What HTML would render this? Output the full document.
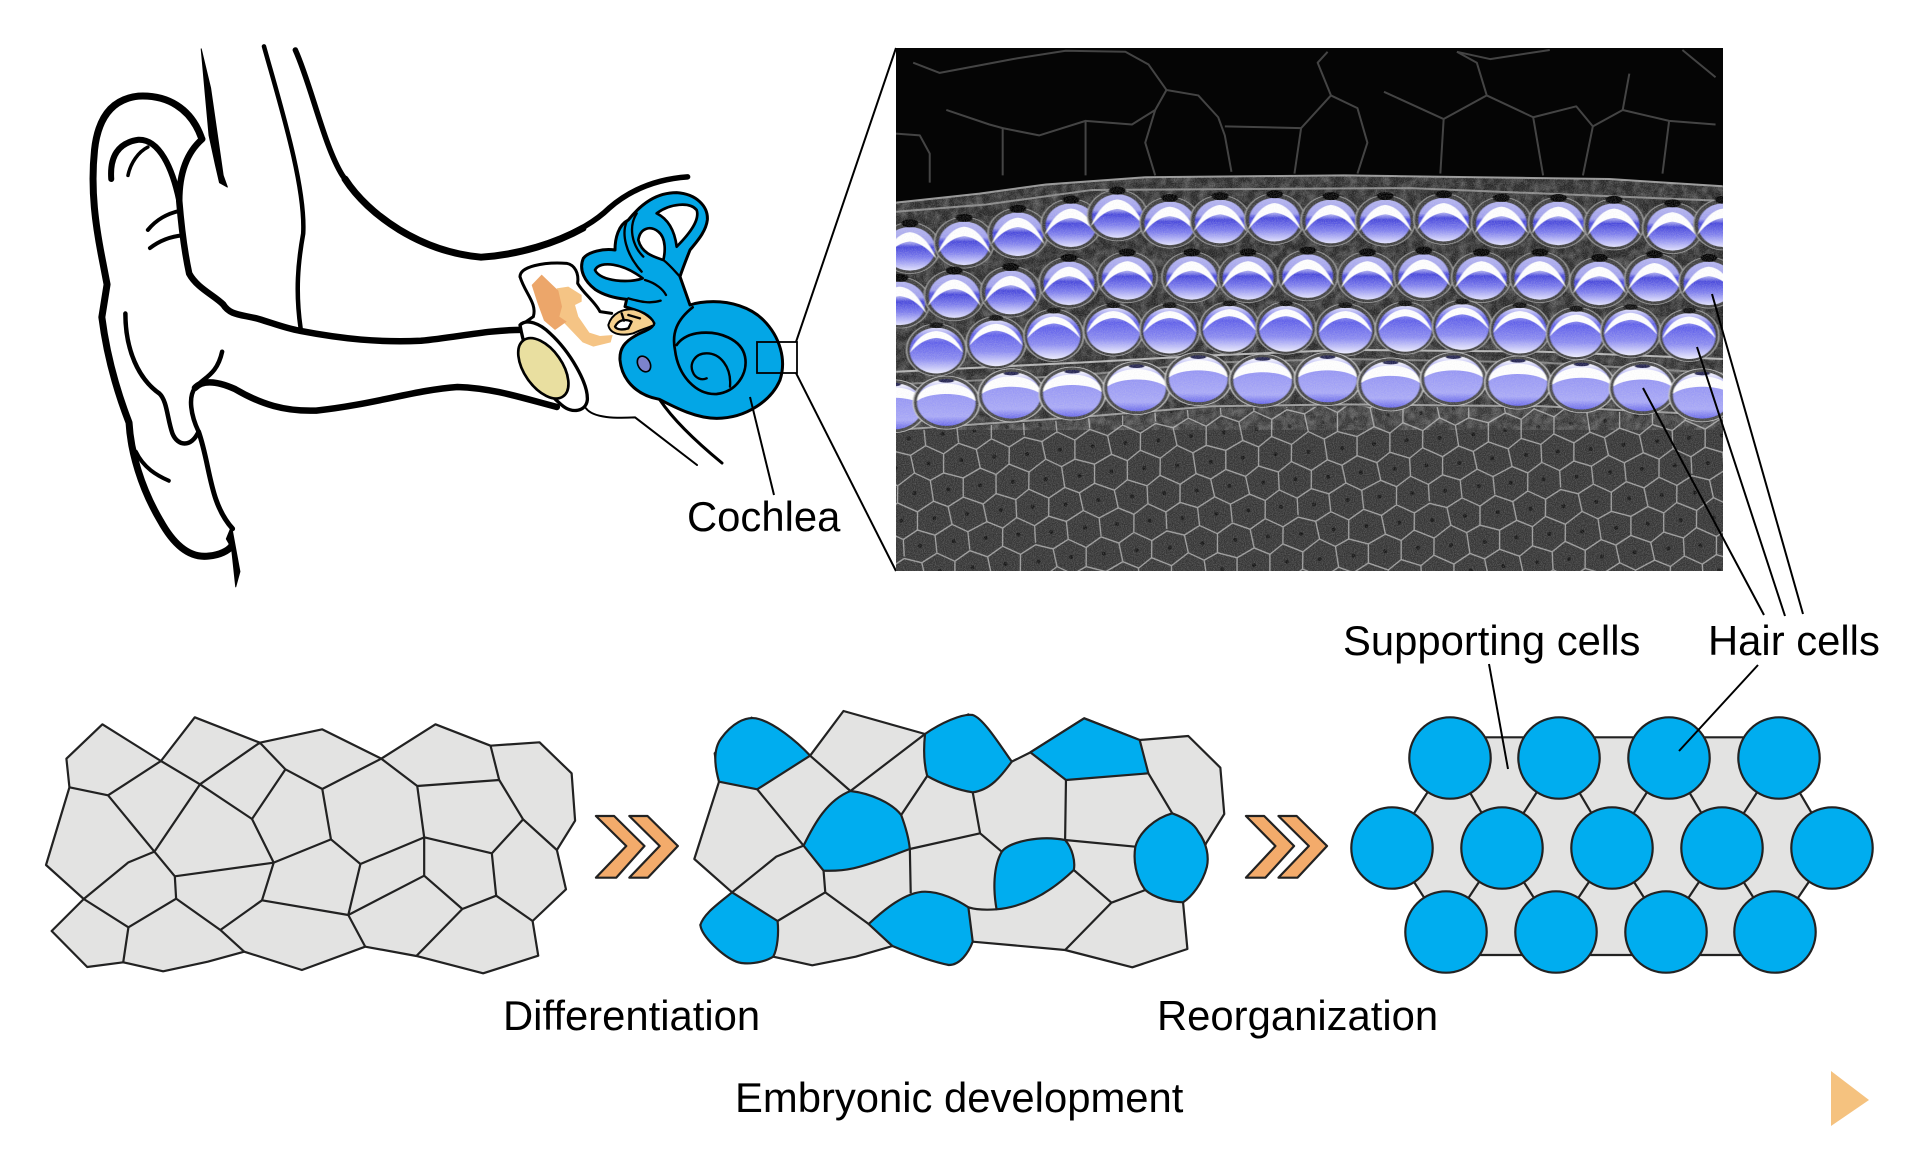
<!DOCTYPE html>
<html><head><meta charset="utf-8"><style>
html,body{margin:0;padding:0;background:#fff}
svg{display:block}
.n *{vector-effect:non-scaling-stroke}
.t{font-family:"Liberation Sans",sans-serif;font-size:41.8px;fill:#000}
</style></head><body>
<svg xmlns="http://www.w3.org/2000/svg" width="1920" height="1172" viewBox="0 0 1920 1172">
<defs>
<clipPath id="ic"><rect x="896" y="48" width="827" height="523"/></clipPath>
<clipPath id="nc"><path d="M896,203 L979,194 L1046,185 L1145,177 L1344,175 L1477,177 L1610,179 L1723,186 L1723,571 L896,571Z"/></clipPath>
<linearGradient id="g1" x1="0" y1="0" x2="0" y2="1"><stop offset="0" stop-color="#b4b4f0"/><stop offset=".36" stop-color="#a0a0ee"/><stop offset=".46" stop-color="#4646dc"/><stop offset=".7" stop-color="#7c7cee"/><stop offset="1" stop-color="#e2e2ff"/></linearGradient>
<linearGradient id="g3" x1="0" y1="0" x2="0" y2="1"><stop offset="0" stop-color="#dcdcfa"/><stop offset=".32" stop-color="#5e5eea"/><stop offset=".68" stop-color="#8a8af2"/><stop offset="1" stop-color="#ececff"/></linearGradient>
<linearGradient id="g4" x1="0" y1="0" x2="0" y2="1"><stop offset="0" stop-color="#fff"/><stop offset=".3" stop-color="#9494f4"/><stop offset=".8" stop-color="#a8a8f8"/><stop offset="1" stop-color="#6868ea"/></linearGradient>
<g id="c1">
<ellipse rx="45" ry="70" fill="#3c3c3c" stroke="#9a9a9a" stroke-width="2"/>
<ellipse rx="38" ry="60" cy="2" fill="url(#g1)"/>
<path d="M-40,30 Q-24,-40 0,-44 Q24,-40 40,30 Q22,-14 0,-18 Q-22,-14 -40,30Z" fill="#fff"/>
<ellipse cy="-68" rx="13" ry="11" fill="#060606"/>
</g>
<g id="c3">
<ellipse rx="45" ry="72" fill="#3c3c3c" stroke="#a4a4a4" stroke-width="2"/>
<ellipse rx="40" ry="63" cy="2" fill="url(#g3)"/>
<path d="M-40,8 Q-28,-48 0,-52 Q28,-48 40,8 Q22,-30 0,-33 Q-22,-30 -40,8Z" fill="#fff"/>
<ellipse cy="-68" rx="11" ry="8" fill="#111"/>
</g>
<g id="c4">
<ellipse rx="50" ry="73" fill="#444" stroke="#c4c4c4" stroke-width="2"/>
<ellipse rx="44" ry="64" fill="url(#g4)"/>
<path d="M-44,-4 C-44,-68 44,-68 44,-4 C26,-30 -26,-30 -44,-4Z" fill="#fff"/>
<ellipse cy="-60" rx="12" ry="5" fill="#222250"/>
</g>
<pattern id="hex" patternUnits="userSpaceOnUse" width="132" height="108" patternTransform="rotate(-6)">
<rect width="132" height="108" fill="#343434"/>
<path d="M0,9 L16,0 L33,10 L49,2 L66,8 L82,0 L99,10 L115,1 L132,9 M0,9 L2,28 M33,10 L31,27 M66,8 L68,26 M99,10 L97,29 M132,9 L134,28 M-16,36 L2,28 L17,36 L31,27 L50,37 L68,26 L83,35 L97,29 L116,36 L134,28 M17,36 L15,55 M50,37 L48,54 M83,35 L84,56 M116,36 L114,55 M-18,55 L1,64 L15,55 L34,63 L48,54 L67,65 L84,56 L98,63 L114,55 L133,64 M1,64 L3,82 M34,63 L33,81 M67,65 L65,83 M98,63 L100,81 M133,64 L135,82 M-17,90 L3,82 L18,90 L33,81 L50,91 L65,83 L82,90 L100,81 L115,90 L135,82 M18,90 L16,108 M50,91 L49,110 M82,90 L82,108 M115,90 L115,109" fill="none" stroke="#a0a0a0" stroke-width="1.3"/>
<g fill="#141414"><circle cx="17" cy="18" r="2"/><circle cx="50" cy="19" r="2"/><circle cx="83" cy="18" r="2"/><circle cx="116" cy="18" r="2"/><circle cx="33" cy="45" r="2"/><circle cx="66" cy="46" r="2"/><circle cx="100" cy="46" r="2"/><circle cx="0" cy="45" r="2"/><circle cx="132" cy="45" r="2"/><circle cx="18" cy="72" r="2"/><circle cx="50" cy="72" r="2"/><circle cx="83" cy="73" r="2"/><circle cx="116" cy="72" r="2"/><circle cx="33" cy="98" r="2"/><circle cx="66" cy="99" r="2"/><circle cx="100" cy="98" r="2"/><circle cx="0" cy="98" r="2"/><circle cx="132" cy="98" r="2"/></g>
</pattern>
<filter id="nz" x="0" y="0" width="100%" height="100%"><feTurbulence type="fractalNoise" baseFrequency=".9" numOctaves="2" seed="4"/><feColorMatrix values="0 0 0 0 .75 0 0 0 0 .75 0 0 0 0 .75 1.1 0 0 0 -.36"/></filter>
<filter id="mot" x="0" y="0" width="100%" height="100%"><feTurbulence type="fractalNoise" baseFrequency=".12" numOctaves="3" seed="9"/><feColorMatrix values="0 0 0 0 .7 0 0 0 0 .7 0 0 0 0 .7 1.6 0 0 0 -.55"/></filter>
<filter id="bl" x="-2%" y="-2%" width="104%" height="104%"><feGaussianBlur stdDeviation=".7"/></filter>
</defs>
<rect width="1920" height="1172" fill="#fff"/>

<!-- outer ear -->
<g class="n" transform="translate(60,30) scale(.5230,.3635)" fill="none" stroke="#000" stroke-linecap="round" stroke-linejoin="round">
<path d="M270,295 C250,215 205,178 150,182 C95,190 72,250 66,330 C58,440 68,540 82,640 L90,700 L80,790 C88,880 105,980 132,1080 C135,1160 155,1260 192,1350 C215,1410 245,1455 285,1447 C305,1445 322,1432 328,1420" stroke-width="7"/>
<path d="M270,52 L288,160 L306,340 L312,400 L320,432 L305,420 L297,370 L285,290 L278,180 Z" fill="#000" stroke-width="1"/>
<path d="M318,1400 L328,1365 L344,1490 L336,1532 L328,1425 Z" fill="#000" stroke-width="1"/>
<path d="M272,300 C240,340 228,400 228,470 C232,540 238,610 247,670 C262,710 295,730 312,755 C325,785 345,782 380,795 C410,808 430,820 460,828 C540,850 610,860 690,855 C760,845 820,825 882,825" stroke-width="6.5"/>
<path d="M390,45 C420,200 470,430 465,560 C455,640 450,720 460,820" stroke-width="4.5"/>
<path d="M450,55 C480,150 505,320 540,400 C590,510 690,610 805,625 C900,615 1000,560 1050,490 C1090,440 1140,410 1200,404" stroke-width="5.5"/>
<path d="M545,410 C590,510 690,610 805,625 C880,618 950,585 1000,545" stroke-width="7"/>
<path d="M98,410 C95,350 110,310 150,302 C190,300 215,380 228,470" stroke-width="6"/>
<path d="M130,400 C135,365 150,335 168,322" stroke-width="3.5"/>
<path d="M168,550 C185,520 205,505 230,497" stroke-width="4"/>
<path d="M172,600 C190,580 210,568 235,565" stroke-width="4"/>
<path d="M125,780 C125,880 150,960 190,1000 C205,1020 205,1070 215,1110 C225,1145 250,1150 265,1105 C250,1060 245,1010 258,985 C275,955 300,950 310,885" stroke-width="4.5"/>
<path d="M265,1105 C288,1200 285,1300 330,1372" stroke-width="5"/>
<path d="M258,985 C270,965 295,962 335,988 C385,1030 430,1050 490,1047 C600,1030 680,990 760,982 C830,985 890,1015 950,1037" stroke-width="6.5"/>
<path d="M145,1160 C160,1205 185,1225 208,1240" stroke-width="4"/>
</g>

<!-- middle & inner ear -->
<g transform="translate(500,170) scale(.33333)" stroke-linejoin="round" stroke-linecap="round">
<path d="M60,320 C60,290 130,275 200,280 C225,285 237,310 233,340 C250,370 285,395 300,425 L335,430" fill="none" stroke="#000" stroke-width="9"/>
<path d="M60,320 C75,370 112,400 100,440 L68,462" fill="none" stroke="#000" stroke-width="9"/>
<path d="M60,465 C80,445 120,460 150,490 C210,545 265,640 262,690 C258,725 215,732 185,705 C130,660 80,580 60,465Z" fill="#fff" stroke="#000" stroke-width="10"/>
<ellipse cx="130" cy="595" rx="103" ry="57" transform="rotate(55 130 595)" fill="#e9dfa0" stroke="#000" stroke-width="8"/>
<path d="M258,715 C280,745 350,745 405,742 L591,885" fill="none" stroke="#000" stroke-width="6"/>
<path d="M480,690 C510,735 570,800 666,879" fill="none" stroke="#000" stroke-width="9"/>
<path d="M170,355 L205,350 L245,375 L245,395 L225,405 L235,440 L268,488 L300,498 L338,495 L332,517 L280,530 L248,517 L203,470 L165,430 L175,400 Z" fill="#f5c485"/>
<path d="M95,345 L125,314 L175,362 L186,410 L178,440 L200,455 L165,480 L132,452 L112,398 Z" fill="#eca66a"/>
<path d="M570,405 L540,320 C548,295 560,265 570,240 C590,215 618,185 622,150 C625,110 590,72 530,68 C470,68 425,100 385,150 C355,165 345,205 345,240 C310,235 265,245 250,265 C235,300 255,335 285,358 C315,378 350,385 380,388 L375,410 C400,420 445,425 462,460 C455,480 425,485 405,498 C375,515 358,535 360,570 C365,625 405,675 478,688 C530,715 590,745 650,745 C740,745 815,690 840,630 C860,570 840,500 790,450 C750,410 690,395 640,395 C610,395 590,398 570,405Z" fill="#03a6e6" stroke="#000" stroke-width="9"/>
<path d="M285,300 C300,270 370,280 428,325 C390,340 300,335 285,300Z" fill="#fff" stroke="#000" stroke-width="8"/>
<path d="M470,130 C510,100 570,95 590,120 C600,150 570,190 530,230 C525,190 510,150 470,130Z" fill="#fff" stroke="#000" stroke-width="8"/>
<path d="M415,210 C420,175 450,165 475,185 C500,205 495,250 490,270 C460,260 425,250 415,210Z" fill="#fff" stroke="#000" stroke-width="8"/>
<path d="M380,155 C365,190 375,250 425,305 M435,330 C470,340 490,360 498,375 M385,385 C420,395 450,402 482,392 M410,130 C385,170 395,225 430,260 M490,270 C510,285 530,310 540,320" fill="none" stroke="#000" stroke-width="7"/>
<path d="M325,465 C335,430 370,415 400,418 C430,425 465,450 462,465 C440,475 420,480 400,490 C370,498 330,495 325,465Z" fill="#f5d08e" stroke="#000" stroke-width="6"/>
<path d="M345,470 C355,450 375,445 395,455 L385,475 C370,480 350,480 345,470Z" fill="#fff" stroke="#000" stroke-width="7"/>
<path d="M365,430 L372,452 M385,435 L420,445" fill="none" stroke="#000" stroke-width="7"/>
<path d="M578,412 C530,450 515,490 525,540 C535,620 590,675 650,672 C710,665 745,610 735,560 C725,510 660,480 590,490 C560,495 540,510 530,525" fill="none" stroke="#000" stroke-width="8"/>
<path d="M690,650 C695,590 660,550 620,550 C585,550 568,580 578,605 C585,625 605,632 620,625" fill="none" stroke="#000" stroke-width="7"/>
<ellipse cx="432" cy="582" rx="18" ry="25" transform="rotate(-30 432 582)" fill="#7c83cc" stroke="#000" stroke-width="5"/>
</g>
<rect x="757" y="342" width="40" height="31" fill="none" stroke="#000" stroke-width="1.8"/>
<g stroke="#000" stroke-width="2" fill="none">
<line x1="796" y1="342" x2="896" y2="48"/>
<line x1="796" y1="373" x2="896" y2="571"/>
<line x1="750" y1="397" x2="774" y2="495"/>
</g>

<!-- micrograph -->
<g clip-path="url(#ic)">
<rect x="896" y="48" width="827" height="523" fill="#050505"/>
<path d="M896,430 L1079,417 L1212,406 L1344,404 L1543,406 L1723,415 L1723,571 L896,571Z" fill="url(#hex)"/>
<g class="n" transform="translate(880,30) scale(.66313,.3635)">
<g fill="none" stroke="#444" stroke-width="2" stroke-linejoin="round">
<path d="M50,90 L90,118 L200,80 L280,57 L370,60 L405,95 L432,165 L480,180 L510,240 L520,290 L530,390"/>
<path d="M100,220 L165,260 L185,270 L185,400 M185,270 L240,290 L310,250 L380,260 L415,220 L432,165"/>
<path d="M24,285 L60,290 L75,340 L75,420 M310,250 L310,400 M415,220 L400,310 L415,400"/>
<path d="M520,265 L635,270 L625,395 M635,270 L680,180 L660,90 L675,60 M680,180 L720,215 L735,310 L720,395"/>
<path d="M760,170 L850,245 L845,395 M850,245 L915,180 L900,90 L870,60 M915,180 L985,240 L1000,400 M985,240 L1050,210 L1075,265 L1060,400"/>
<path d="M1075,265 L1120,220 L1130,120 M1120,220 L1190,250 L1180,395 M1190,250 L1260,260 M870,60 L920,80 L1010,55 M1210,55 L1260,130"/>
</g>
<path d="M24,475 L150,450 L250,425 L400,405 L700,400 L900,405 L1100,410 L1271,430 L1271,1065 L1000,1040 L700,1035 L500,1040 L300,1070 L24,1105Z" fill="#262626"/>
</g>
<g clip-path="url(#nc)"><rect x="896" y="160" width="827" height="270" filter="url(#mot)" opacity=".35"/></g>
<g class="n" transform="translate(880,30) scale(.66313,.3635)" filter="url(#bl)">
<g fill="none" stroke="#999" stroke-width="2">
<path d="M24,475 L150,450 L250,425 L400,405 L700,400 L900,405 L1100,410 L1271,430"/>
<path d="M24,500 L160,480 L320,440 L500,438 L800,435 L1271,470" stroke="#888"/>
<path d="M24,940 L300,915 L500,895 L700,880 L1000,885 L1271,905" stroke="#b4b4b4"/>
<path d="M24,975 L300,950 L500,915 L700,905 L1000,915 L1271,945" stroke="#808080"/>
<path d="M24,1100 L300,1065 L500,1035 L700,1030 L1000,1035 L1271,1060"/>
</g>
<use href="#c1" x="45" y="600"/><use href="#c1" x="127" y="585"/><use href="#c1" x="208" y="560"/><use href="#c1" x="288" y="535"/><use href="#c1" x="358" y="510"/><use href="#c1" x="437" y="530"/><use href="#c1" x="513" y="525"/><use href="#c1" x="595" y="520"/><use href="#c1" x="680" y="525"/><use href="#c1" x="762" y="525"/><use href="#c1" x="850" y="520"/><use href="#c1" x="937" y="530"/><use href="#c1" x="1023" y="530"/><use href="#c1" x="1107" y="535"/><use href="#c1" x="1195" y="545"/><use href="#c1" x="1272" y="535"/>
<use href="#c1" x="30" y="750"/><use href="#c1" x="112" y="730"/><use href="#c1" x="197" y="720"/><use href="#c1" x="285" y="695"/><use href="#c1" x="373" y="680"/><use href="#c1" x="470" y="680"/><use href="#c1" x="555" y="680"/><use href="#c1" x="645" y="675"/><use href="#c1" x="735" y="680"/><use href="#c1" x="820" y="675"/><use href="#c1" x="907" y="680"/><use href="#c1" x="995" y="680"/><use href="#c1" x="1085" y="695"/><use href="#c1" x="1168" y="685"/><use href="#c1" x="1250" y="695"/>
<use href="#c3" x="85" y="880"/><use href="#c3" x="175" y="860"/><use href="#c3" x="262" y="840"/><use href="#c3" x="352" y="825"/><use href="#c3" x="437" y="825"/><use href="#c3" x="527" y="820"/><use href="#c3" x="612" y="820"/><use href="#c3" x="702" y="825"/><use href="#c3" x="792" y="820"/><use href="#c3" x="878" y="815"/><use href="#c3" x="965" y="825"/><use href="#c3" x="1050" y="835"/><use href="#c3" x="1132" y="830"/><use href="#c3" x="1220" y="840"/>
<use href="#c4" x="20" y="1035"/><use href="#c4" x="100" y="1025"/><use href="#c4" x="198" y="1005"/><use href="#c4" x="290" y="1000"/><use href="#c4" x="387" y="985"/><use href="#c4" x="480" y="960"/><use href="#c4" x="577" y="965"/><use href="#c4" x="675" y="960"/><use href="#c4" x="770" y="975"/><use href="#c4" x="865" y="960"/><use href="#c4" x="962" y="970"/><use href="#c4" x="1058" y="980"/><use href="#c4" x="1150" y="985"/><use href="#c4" x="1240" y="1005"/>
</g>
<g clip-path="url(#nc)"><rect x="896" y="170" width="827" height="401" filter="url(#nz)" opacity=".45"/></g>
</g>

<!-- leader lines -->
<g stroke="#000" stroke-width="2" fill="none">
<line x1="1643" y1="388" x2="1764" y2="615"/>
<line x1="1697" y1="347" x2="1785" y2="616"/>
<line x1="1712" y1="294" x2="1803" y2="614"/>
</g>

<!-- cell sheet 1 -->
<g class="n" transform="translate(20,700) scale(.43367,.33333)" stroke="#222" stroke-width="2.2" fill="none" stroke-linejoin="round">
<path fill="#e3e3e2" d="M190,73 L325,183 L403,52 L553,128 L697,88 L833,176 L958,73 L1085,137 L1198,127 L1272,220 L1280,362 L1238,450 L1259,568 L1182,663 L1195,767 L1068,820 L914,768 L796,740 L650,810 L517,755 L433,785 L330,814 L238,787 L155,801 L73,693 L147,597 L60,495 L114,262 L107,176Z"/>
<path d="M114,262 L203,286 L325,183 M203,286 L310,455 L415,253 M325,183 L415,253 L553,128 M415,253 L535,357 L612,208 M553,128 L612,208 L697,267 L833,176 L916,258 L1105,240 L1085,137 M697,267 L717,418 L585,488 L535,357 M717,418 L785,492 L932,412 L916,258 M785,492 L757,645 L558,601 L585,488 L357,529 L310,455 M310,455 L250,487 L147,597 L250,682 L360,596 L357,529 M360,596 L462,690 L558,601 M462,690 L517,755 M250,682 L238,787 M757,645 L796,740 M757,645 L932,527 L932,412 M932,412 L1088,460 L1160,358 L1105,240 M1160,358 L1238,450 M1088,460 L1098,587 L1182,663 M1098,587 L1020,627 L932,527 M1020,627 L914,768"/>
<path fill="#f3ab6b" d="M1328,348 L1370,348 L1440,438 L1375,533 L1328,533 L1398,438Z M1405,348 L1447,348 L1517,438 L1448,533 L1405,533 L1475,438Z"/>
</g>

<!-- cell sheet 2 -->
<g class="n" transform="translate(680,700) scale(.43367,.33333)" stroke="#222" stroke-width="2.2" fill="none" stroke-linejoin="round">
<path fill="#e3e3e2" d="M300,167 L377,33 L565,102 L665,43 L765,185 L808,157 L932,55 L1060,120 L1172,108 L1246,203 L1255,342 L1213,430 L1160,607 L1170,747 L1043,802 L888,750 L675,725 L620,795 L490,738 L405,770 L305,796 L215,770 L150,790 L47,675 L120,577 L33,477 L90,245 L80,160 L165,53Z"/>
<path d="M225,663 L335,577 L331,512 M335,577 L435,672 M178,268 L285,437 L222,470 L120,577 M300,167 L393,273 L565,102 M510,345 L570,228 M675,277 L692,400 L530,447 L532,580 M692,400 L742,455 M890,240 L888,420 L1050,440 M908,510 L995,608 L1073,570 M995,608 L888,750 M1080,220 L1135,340 M665,622 C685,630 710,630 730,628 M490,738 L435,672"/>
<g fill="#00adef">
<path d="M90,245 C80,200 75,150 95,115 C120,70 150,50 175,55 C215,65 270,125 300,167 L178,268Z"/>
<path d="M565,102 C600,70 650,40 675,45 C700,55 740,140 765,185 C740,230 715,270 675,277 C640,270 600,250 570,228 C562,190 562,140 565,102Z"/>
<path d="M808,157 L932,55 L1060,120 L1080,220 L890,240Z"/>
<path d="M393,273 C440,280 490,310 510,345 C520,380 528,420 530,447 C490,465 450,490 400,505 C375,512 350,513 331,512 L285,437 C310,370 340,300 393,273Z"/>
<path d="M742,455 C760,425 830,405 888,420 C905,445 912,485 908,510 C860,570 800,620 730,628 C722,570 722,500 742,455Z"/>
<path d="M1135,340 C1165,355 1185,370 1195,395 C1215,430 1220,470 1215,500 C1205,550 1180,590 1160,607 C1130,605 1095,595 1073,570 C1050,530 1045,480 1050,440 C1060,395 1095,355 1135,340Z"/>
<path d="M120,577 L225,663 C228,700 225,745 215,770 C190,790 150,795 130,785 C100,770 50,710 47,675 C55,640 90,610 120,577Z"/>
<path d="M435,672 C470,630 520,575 565,575 C600,575 640,600 665,622 L675,725 C665,760 645,795 620,795 C580,785 530,760 490,738Z"/>
</g>
<path fill="#f3ab6b" d="M1305,348 L1347,348 L1416,438 L1350,533 L1305,533 L1373,438Z M1380,348 L1422,348 L1492,438 L1424,533 L1380,533 L1450,438Z"/>
</g>

<!-- cell sheet 3 -->
<g class="n" transform="translate(1340,600) scale(.36996,.33333)" stroke="#222" stroke-width="2.2" fill="none">
<path fill="#e3e3e2" stroke="none" d="M297,412 L1187,412 L1187,473 L1330,743 L1176,995 L1176,1065 L287,1065 L287,995 L140,743 L297,473Z"/>
<path d="M297,412 L1187,412 M287,1065 L1176,1065 M297,473 L140,743 L287,995 M297,473 L437,743 L591,473 L735,743 L889,473 L1032,743 L1187,473 L1330,743 L1176,995 L1032,743 L881,995 L735,743 L583,995 L437,743 L287,995"/>
</g>
<g fill="#00adef" stroke="#222" stroke-width="2.2">
<circle cx="1450" cy="758" r="40.7"/><circle cx="1559" cy="758" r="40.7"/><circle cx="1669" cy="758" r="40.7"/><circle cx="1779" cy="758" r="40.7"/>
<circle cx="1392" cy="848" r="40.7"/><circle cx="1502" cy="848" r="40.7"/><circle cx="1612" cy="848" r="40.7"/><circle cx="1722" cy="848" r="40.7"/><circle cx="1832" cy="848" r="40.7"/>
<circle cx="1446" cy="932" r="40.7"/><circle cx="1556" cy="932" r="40.7"/><circle cx="1666" cy="932" r="40.7"/><circle cx="1775" cy="932" r="40.7"/>
</g>
<g stroke="#000" stroke-width="2" fill="none">
<line x1="1489" y1="664" x2="1508" y2="769"/>
<line x1="1758" y1="665" x2="1679" y2="751"/>
</g>

<polygon points="1831,1071 1869,1100 1831,1126" fill="#f5c27f"/>

<text class="t" x="687" y="531">Cochlea</text>
<text class="t" x="1343" y="655">Supporting cells</text>
<text class="t" x="1708" y="655">Hair cells</text>
<text class="t" x="503" y="1030">Differentiation</text>
<text class="t" x="1157" y="1030">Reorganization</text>
<text class="t" x="735" y="1112">Embryonic development</text>
</svg>
</body></html>
